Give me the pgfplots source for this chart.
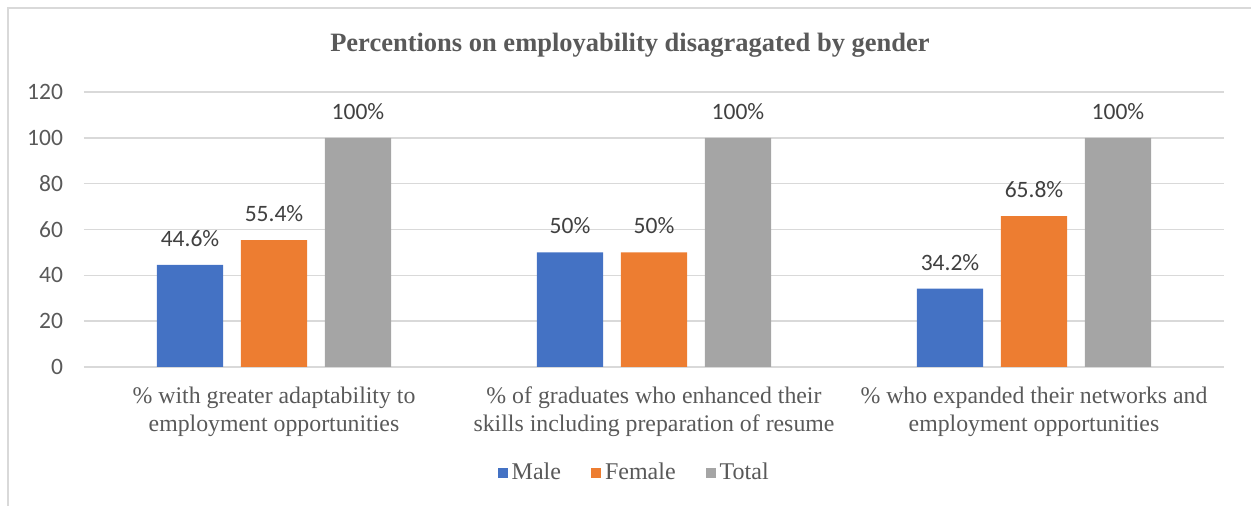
\documentclass[border=0pt]{standalone}
\usepackage{pgfplots}
\pgfplotsset{compat=1.18}
\usepackage{fontspec}
\setmainfont{Liberation Serif}
\newfontfamily\calibri{Carlito}
\definecolor{cMale}{HTML}{4472C4}
\definecolor{cFemale}{HTML}{ED7D31}
\definecolor{cTotal}{HTML}{A5A5A5}
\definecolor{txt}{HTML}{595959}
\definecolor{lbl}{HTML}{404040}
\definecolor{grd}{HTML}{D9D9D9}
\begin{document}
\begin{tikzpicture}
\path[use as bounding box] (-42pt,-69.5pt) rectangle (583.5pt,183.5pt);
\draw[grd, line width=0.75pt] (-38pt,-69.5pt) -- (-38pt,179.5pt) -- (583.5pt,179.5pt);
\begin{axis}[
  at={(0pt,0pt)}, anchor=south west,
  scale only axis, width=570pt, height=137.5pt,
  xmin=-0.5, xmax=2.5, ymin=0, ymax=120,
  ytick={0,20,...,120}, xtick={0,1,2},
  xticklabels={{\% with greater adaptability to\\employment opportunities},
               {\% of graduates who enhanced their\\skills including preparation of resume},
               {\% who expanded their networks and\\employment opportunities}},
  xticklabel style={align=center, font=\fontsize{11.9}{14}\selectfont, text=txt, yshift=-6.5pt},
  yticklabel style={font=\calibri\fontsize{11.75}{14}\selectfont, text=txt, xshift=-7pt},
  /pgf/number format/assume math mode=true,
  major tick length=0pt,
  axis line style={draw=none},
  ymajorgrids, grid style={grd, line width=0.75pt},
  ybar, bar width=0.174,
  point meta=explicit symbolic,
  nodes near coords,
  nodes near coords style={font=\calibri\fontsize{11.75}{14}\selectfont, text=lbl, anchor=south, yshift=5.6pt},
  legend style={at={(0.4835,-0.385)}, anchor=center, legend columns=-1, draw=none,
    font=\fontsize{12}{14}\selectfont, text=txt,
    /tikz/every even column/.append style={column sep=13pt}},
  legend image code/.code={\fill[#1] (0pt,-2.5pt) rectangle (5pt,2.5pt);},
  clip=false,
]
\addplot[fill=cMale, draw=none, bar shift=-0.221] coordinates {(0,44.6)[44.6\%] (1,50)[50\%] (2,34.2)[34.2\%]};
\addplot[fill=cFemale, draw=none, bar shift=0] coordinates {(0,55.4)[55.4\%] (1,50)[50\%] (2,65.8)[65.8\%]};
\addplot[fill=cTotal, draw=none, bar shift=0.221] coordinates {(0,100)[100\%] (1,100)[100\%] (2,100)[100\%]};
\legend{Male,Female,Total}
\end{axis}
\node[font=\bfseries\fontsize{13.25}{16}\selectfont, text=txt] at (273pt,161pt) {Percentions on employability disagragated by gender};
\end{tikzpicture}
\end{document}
